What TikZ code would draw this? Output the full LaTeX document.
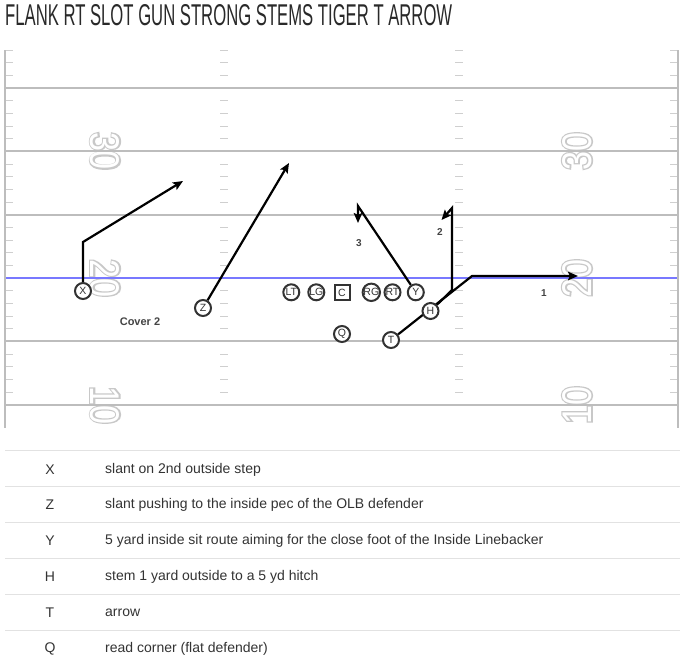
\documentclass[tikz,border=0pt]{standalone}
\usepackage{fontspec}
\setmainfont{Liberation Sans}
\newfontfamily\numbold[FakeBold=7]{Liberation Sans}
\usetikzlibrary{arrows.meta}
\definecolor{yardgray}{HTML}{BDBDBD}
\definecolor{tickgray}{HTML}{CFCFCF}
\definecolor{numgray}{HTML}{C8C8C8}
\definecolor{losblue}{HTML}{7878FF}
\definecolor{ink}{HTML}{333333}
\definecolor{labelink}{HTML}{444444}
\definecolor{rulegray}{HTML}{E2E2E2}
\newcommand{\yardnum}[1]{\resizebox{38pt}{29pt}{\rlap{\textcolor{numgray}{\numbold #1}}\textcolor{white}{#1}}}
\pgfdeclarelayer{paper}
\pgfdeclarelayer{field}
\pgfdeclarelayer{routes}
\pgfsetlayers{paper,field,routes,main}
\tikzset{
  hashtick/.style={draw=tickgray, line width=1pt},
  yardline/.style={draw=yardgray, line width=2pt},
  losline/.style={draw=losblue, line width=2.6pt},
  fieldnum/.style={inner sep=0pt},
  player/.style={circle, draw=ink, line width=2pt, fill=white, inner sep=0pt,
    minimum size=16pt, text=ink, font=\fontsize{10.5}{10.5}\selectfont},
  centerbox/.style={rectangle, draw=ink, line width=2pt, fill=white, inner sep=0pt,
    minimum size=15pt, text=ink, font=\fontsize{10.5}{10.5}\selectfont},
  route/.style={draw=black, line width=2.2pt, line join=miter},
  routetip/.style={-{Stealth[length=10pt,width=8.5pt,inset=2pt]}},
  routelabel/.style={text=labelink, font=\bfseries\fontsize{10}{10}\selectfont, inner sep=0pt},
  tabrule/.style={draw=rulegray, line width=1pt},
  tabkey/.style={text=ink, font=\fontsize{14}{14}\selectfont, inner sep=0pt},
  tabdesc/.style={text=ink, font=\fontsize{14}{14}\selectfont, inner sep=0pt, anchor=west},
}
\begin{document}
\begin{tikzpicture}[x=1pt,y=-1pt]
\begin{pgfonlayer}{paper}
\fill[white] (0,0) rectangle (680,662);
\end{pgfonlayer}
\useasboundingbox (0,0) rectangle (680,662);

% title
\node[anchor=south west, inner sep=0pt, text=ink!80!black] (title) at (5,26)
  {\resizebox{447pt}{21pt}{FLANK RT SLOT GUN STRONG STEMS TIGER T ARROW}};

% field
\begin{pgfonlayer}{field}
\node[fieldnum, rotate=-90] (n30l) at (105,151) {\yardnum{30}};
\node[fieldnum, rotate=-90] (n20l) at (105,278) {\yardnum{20}};
\node[fieldnum, rotate=-90] (n10l) at (105,405) {\yardnum{10}};
\node[fieldnum, rotate=90] (n30r) at (577,151) {\yardnum{30}};
\node[fieldnum, rotate=90] (n20r) at (577,278) {\yardnum{20}};
\node[fieldnum, rotate=90] (n10r) at (577,405) {\yardnum{10}};
\foreach \n in {0,...,27} {
  \pgfmathsetmacro\yy{50+12.6667*\n}
  \draw[hashtick] (5,\yy) -- (13,\yy);
  \draw[hashtick] (220,\yy) -- (228,\yy);
  \draw[hashtick] (455,\yy) -- (463,\yy);
  \draw[hashtick] (670,\yy) -- (678,\yy);
}
\foreach \yy in {88,151.3,214.7,341.3,404.7}
  \draw[yardline] (5,\yy) -- (678,\yy);
\draw[losline] (5,278) -- (678,278);
\draw[yardline] (5,50) -- (5,428);
\draw[yardline] (678,50) -- (678,428);
\end{pgfonlayer}

% players
\node[player] (X) at (83,291) {X};
\node[player] (Z) at (203,308) {Z};
\node[player] (LT) at (291.3,292.3) {LT};
\node[player] (LG) at (316.3,292.3) {LG};
\node[centerbox] (C) at (342,292.5) {C};
\node[player] (RG) at (371.3,292.3) {RG};
\node[player] (RT) at (392.5,292.3) {RT};
\node[player] (Y) at (415.8,292.3) {Y};
\node[player] (H) at (430.5,311) {H};
\node[player] (T) at (391,340) {T};
\node[player] (Q) at (342,334) {Q};

% route points
\coordinate (xc) at (83,242);
\coordinate (xe) at (183,181);
\coordinate (ze) at (289,163);
\coordinate (yc) at (358,206);
\coordinate (ye) at (358,223);
\coordinate (hc) at (452,290);
\coordinate (hd) at (452,208);
\coordinate (he) at (441.5,220);
\coordinate (tc) at (472,276);
\coordinate (te) at (578,276);

\begin{pgfonlayer}{routes}
\draw[route, routetip] (X) -- (xc) -- (xe);
\draw[route, routetip] (Z) -- (ze);
\draw[route, routetip] (Y) -- (yc) -- (ye);
\draw[route, routetip] (H) -- (hc) -- (hd) -- (he);
\draw[route, routetip] (T) -- (tc) -- (te);
\end{pgfonlayer}

\node[routelabel] (l1) at (544,293) {1};
\node[routelabel] (l2) at (440,232) {2};
\node[routelabel] (l3) at (359,243) {3};
\node[routelabel, font=\bfseries\fontsize{11}{11}\selectfont] (cover) at (140,322) {Cover 2};

% table
\foreach \yy in {450,486,522,558,594,630}
  \draw[tabrule] (5,\yy) -- (680,\yy);
\node[tabkey] (kX) at (50,470) {X};
\node[tabkey] (kZ) at (50,505) {Z};
\node[tabkey] (kY) at (50,541) {Y};
\node[tabkey] (kH) at (50,577) {H};
\node[tabkey] (kT) at (50,613) {T};
\node[tabkey] (kQ) at (50,649) {Q};
\node[tabdesc] (dX) at (105,470) {slant on 2nd outside step};
\node[tabdesc] (dZ) at (105,505) {slant pushing to the inside pec of the OLB defender};
\node[tabdesc] (dY) at (105,541) {5 yard inside sit route aiming for the close foot of the Inside Linebacker};
\node[tabdesc] (dH) at (105,577) {stem 1 yard outside to a 5 yd hitch};
\node[tabdesc] (dT) at (105,613) {arrow};
\node[tabdesc] (dQ) at (105,649) {read corner (flat defender)};
\end{tikzpicture}
\end{document}
